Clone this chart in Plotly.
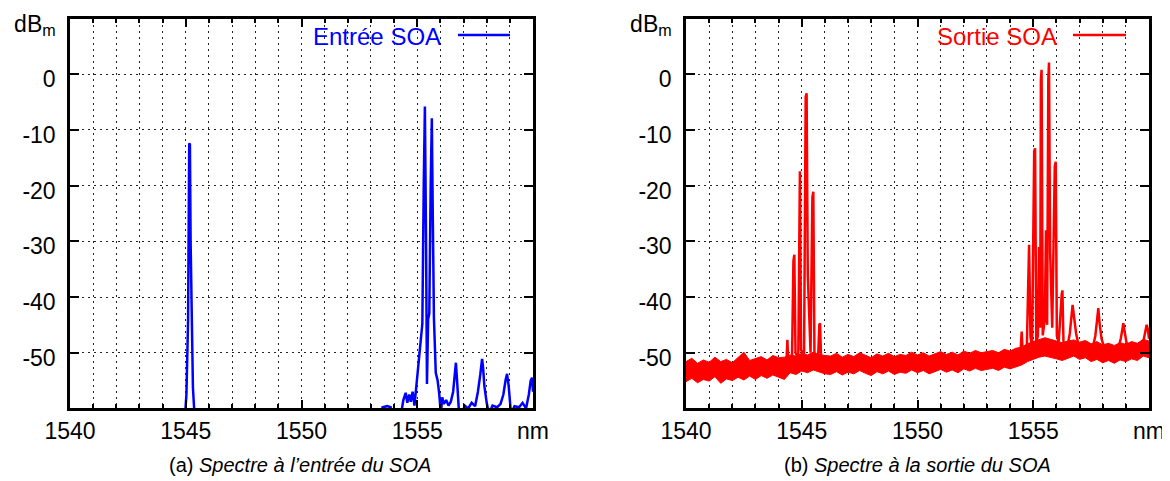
import plotly.graph_objects as go

# wavelengths (nm) / levels (dBm)
x_ticks = [1540, 1545, 1550, 1555, 1560]
x_text = ["1540", "1545", "1550", "1555", "nm"]
y_ticks = [-50, -40, -30, -20, -10, 0, 10]
y_text = ["-50", "-40", "-30", "-20", "-10", "0", "dB<sub>m</sub>"]

# (a) input spectrum, blue: isolated line near 1545 nm and the comb near 1555 nm
in_line_nm = [1544.96, 1545.03, 1545.10, 1545.15, 1545.18, 1545.21, 1545.24, 1545.31, 1545.39]
in_line_db = [-62.0, -57.4, -44.3, -12.4, -12.6, -30.0, -41.5, -56.3, -62.0]

in_comb_nm = [1553.45, 1553.50, 1553.70, 1553.85, 1553.90, 1554.30, 1554.40, 1554.50, 1554.57,
              1554.65, 1554.72, 1554.80, 1554.88, 1554.98, 1555.05, 1555.15, 1555.22, 1555.28,
              1555.33, 1555.38, 1555.42, 1555.47, 1555.52, 1555.58, 1555.63, 1555.67, 1555.72,
              1555.80, 1555.88, 1555.95, 1556.02, 1556.08, 1556.15, 1556.25, 1556.35, 1556.45,
              1556.55, 1556.62, 1556.67, 1556.72, 1556.80, 1556.90, 1557.05, 1557.20, 1557.35,
              1557.50, 1557.62, 1557.72, 1557.80, 1557.84, 1557.90, 1558.00, 1558.10, 1558.25,
              1558.45, 1558.60, 1558.72, 1558.82, 1558.88, 1558.95, 1559.05, 1559.20, 1559.40,
              1559.55, 1559.70, 1559.82, 1559.90, 1559.96, 1560.00]
in_comb_db = [-62.0, -59.8, -59.6, -59.8, -62.0, -61.0, -58.5, -57.2, -59.0,
              -57.5, -58.8, -57.0, -59.5, -55.0, -52.5, -48.0, -44.8, -20.0,
              -5.8, -30.0, -55.6, -44.0, -43.0, -20.0, -7.9, -25.0, -43.7,
              -53.6, -55.0, -57.4, -61.0, -58.0, -59.2, -58.5, -59.5, -58.8,
              -57.0, -54.0, -51.8, -55.0, -60.5, -61.5, -59.5, -60.0, -59.0,
              -59.6, -57.0, -54.0, -51.1, -52.5, -56.0, -59.0, -61.0, -59.5,
              -59.8, -59.2, -57.5, -54.8, -53.8, -56.0, -61.0, -59.6, -59.8,
              -59.0, -60.0, -57.5, -55.0, -54.5, -57.0]

# (b) output spectrum, red: ASE floor (upper / lower edge of the noise band)
floor_nm = [1540.00, 1540.25, 1540.50, 1540.75, 1541.00, 1541.25, 1541.50, 1541.75, 1542.00,
            1542.25, 1542.50, 1542.75, 1543.00, 1543.25, 1543.50, 1543.75, 1544.00, 1544.25,
            1544.50, 1544.75, 1545.00, 1545.25, 1545.50, 1545.75, 1546.00, 1546.25, 1546.50,
            1546.75, 1547.00, 1547.25, 1547.50, 1547.75, 1548.00, 1548.25, 1548.50, 1548.75,
            1549.00, 1549.25, 1549.50, 1549.75, 1550.00, 1550.25, 1550.50, 1550.75, 1551.00,
            1551.25, 1551.50, 1551.75, 1552.00, 1552.25, 1552.50, 1552.75, 1553.00, 1553.25,
            1553.50, 1553.75, 1554.00, 1554.25, 1554.50, 1554.75, 1555.00, 1555.25, 1555.50,
            1555.75, 1556.00, 1556.25, 1556.50, 1556.75, 1557.00, 1557.25, 1557.50, 1557.75,
            1558.00, 1558.25, 1558.50, 1558.75, 1559.00, 1559.25, 1559.50, 1559.75, 1560.00]
floor_hi = [-51.6, -51.0, -51.9, -51.3, -51.7, -50.8, -51.6, -51.2, -51.8,
            -50.9, -49.9, -51.4, -51.0, -50.7, -51.3, -50.5, -50.9, -50.8,
            -50.4, -50.6, -50.1, -50.4, -49.9, -50.3, -50.5, -50.6, -50.1,
            -50.8, -50.3, -50.7, -50.0, -50.5, -50.9, -50.2, -50.6, -50.1,
            -50.7, -50.3, -50.5, -49.9, -50.4, -50.0, -50.6, -50.2, -49.8,
            -50.3, -49.9, -50.4, -49.7, -50.1, -49.6, -50.0, -49.8, -49.6,
            -50.0, -49.4, -49.7, -49.2, -49.0, -48.4, -48.0, -47.6, -47.3,
            -47.6, -47.9, -48.2, -47.9, -47.7, -48.1, -47.8, -48.4, -48.0,
            -48.6, -48.3, -48.7, -48.2, -48.5, -48.0, -48.3, -47.6, -47.9]
floor_lo = [-55.2, -54.6, -55.4, -54.8, -55.1, -54.3, -55.5, -54.7, -55.0,
            -54.4, -54.9, -54.2, -54.8, -54.1, -54.6, -54.0, -54.4, -54.8,
            -53.6, -53.9, -53.3, -53.6, -53.1, -53.5, -53.8, -53.9, -53.4,
            -54.0, -53.5, -53.8, -53.2, -53.7, -54.1, -53.4, -53.8, -53.3,
            -53.9, -53.5, -53.7, -53.1, -53.6, -53.2, -53.8, -53.4, -53.0,
            -53.5, -53.1, -53.6, -52.9, -53.3, -52.8, -53.2, -53.0, -52.8,
            -53.2, -52.6, -52.9, -52.5, -52.2, -51.6, -51.2, -50.8, -50.6,
            -50.8, -51.1, -51.4, -51.0, -50.6, -51.2, -50.9, -51.6, -51.2,
            -51.8, -51.4, -51.9, -51.3, -51.6, -51.1, -51.4, -50.6, -50.9]

# (b) converted lines around 1545 nm
out_a_nm = [1544.25, 1544.34, 1544.38, 1544.42, 1544.58, 1544.64, 1544.68, 1544.73, 1544.85,
            1544.89, 1544.92, 1544.97, 1545.10, 1545.17, 1545.21, 1545.26, 1545.38, 1545.46,
            1545.50, 1545.55, 1545.70, 1545.76, 1545.79, 1545.84, 1546.00]
out_a_db = [-52.5, -51.5, -47.7, -52.0, -51.0, -33.5, -32.4, -50.0, -51.0,
            -18.0, -17.4, -49.5, -50.5, -4.0, -3.4, -36.0, -50.0, -22.0,
            -21.1, -51.0, -51.5, -45.0, -44.7, -52.0, -52.0]

# (b) comb around 1555 nm and its satellites
out_b_nm = [1554.20, 1554.45, 1554.50, 1554.55, 1554.72, 1554.79, 1554.82, 1554.88, 1554.95,
            1555.04, 1555.08, 1555.13, 1555.20, 1555.25, 1555.30, 1555.33, 1555.36, 1555.41,
            1555.50, 1555.55, 1555.60, 1555.65, 1555.68, 1555.73, 1555.82, 1555.93, 1555.97,
            1556.02, 1556.10, 1556.23, 1556.26, 1556.31, 1556.45, 1556.58, 1556.65, 1556.70,
            1556.76, 1556.85, 1556.95, 1557.20, 1557.55, 1557.68, 1557.76, 1557.81, 1557.86,
            1557.95, 1558.10, 1558.40, 1558.65, 1558.78, 1558.85, 1558.89, 1558.94, 1559.02,
            1559.15, 1559.45, 1559.65, 1559.78, 1559.86, 1559.90, 1559.95, 1560.00]
out_b_db = [-50.5, -50.0, -46.2, -50.5, -49.5, -31.0, -30.6, -47.1, -49.0,
            -13.8, -13.3, -48.0, -47.0, -31.0, -45.5, -1.0, 0.8, -46.9,
            -44.0, -28.0, -45.0, -1.0, 2.1, -32.0, -45.5, -16.5, -15.7,
            -47.0, -48.0, -39.5, -38.8, -49.0, -49.5, -46.5, -43.0, -41.4,
            -43.5, -46.5, -48.5, -49.5, -49.5, -47.0, -44.0, -42.0, -44.5,
            -47.5, -49.5, -50.0, -49.5, -47.5, -45.8, -44.7, -46.0, -48.0,
            -49.5, -49.8, -49.0, -47.5, -45.8, -45.0, -45.8, -47.5]

BLUE = "#0000ff"
RED = "#ff0000"
FONT = "Liberation Sans"
# the page body has an 8px margin, so the figure is drawn 8px in from the window corner
OFF = 8
W, H = 1170 - OFF, 481 - OFF


def px(x):
    return (x - OFF) / W


def py(y):
    return 1 - (y - OFF) / H


fig = go.Figure()

# left panel
fig.add_trace(go.Scatter(x=in_line_nm, y=in_line_db, mode="lines",
                         line=dict(color=BLUE, width=2.5), showlegend=False))
fig.add_trace(go.Scatter(x=in_comb_nm, y=in_comb_db, mode="lines",
                         line=dict(color=BLUE, width=2.5), showlegend=False))

# right panel
fig.add_trace(go.Scatter(x=floor_nm, y=floor_lo, mode="lines", xaxis="x2", yaxis="y2",
                         line=dict(color=RED, width=1), showlegend=False))
fig.add_trace(go.Scatter(x=floor_nm, y=floor_hi, mode="lines", xaxis="x2", yaxis="y2",
                         fill="tonexty", fillcolor=RED,
                         line=dict(color=RED, width=1), showlegend=False))
fig.add_trace(go.Scatter(x=out_a_nm, y=out_a_db, mode="lines", xaxis="x2", yaxis="y2",
                         line=dict(color=RED, width=2.5), showlegend=False))
fig.add_trace(go.Scatter(x=out_b_nm, y=out_b_db, mode="lines", xaxis="x2", yaxis="y2",
                         line=dict(color=RED, width=2.5), showlegend=False))

xax = dict(range=[1540, 1560], tickvals=x_ticks, ticktext=x_text, automargin=False,
           ticks="inside", ticklen=9, tickwidth=1.5, tickcolor="black",
           showline=True, linewidth=2.5, linecolor="black", mirror="allticks",
           showgrid=True, gridcolor="#222", gridwidth=1, griddash="2px,4px",
           minor=dict(dtick=1, ticks="inside", ticklen=5, tickcolor="black",
                      showgrid=True, gridcolor="#222", gridwidth=1, griddash="2px,4px"),
           zeroline=False, ticklabelstandoff=0, ticklabeloverflow="allow",
           tickfont=dict(family=FONT, size=23, color="black"))
yax = dict(range=[-60, 10], tickvals=y_ticks, ticktext=y_text, automargin=False,
           ticks="inside", ticklen=9, tickwidth=1.5, tickcolor="black",
           showline=True, linewidth=2.5, linecolor="black", mirror="allticks",
           showgrid=True, gridcolor="#222", gridwidth=1, griddash="2px,4px",
           zeroline=False, ticklabelstandoff=7, ticklabelshift=5,
           ticklabeloverflow="allow",
           tickfont=dict(family=FONT, size=23, color="black"))

y_dom = [py(408.4), py(18.6)]
fig.update_layout(
    width=W, height=H,
    margin=dict(l=0, r=0, t=0, b=0),
    paper_bgcolor="white", plot_bgcolor="white",
    xaxis=dict(xax, domain=[px(70), px(533)], anchor="y"),
    yaxis=dict(yax, domain=y_dom, anchor="x"),
    xaxis2=dict(xax, domain=[px(686), px(1149)], anchor="y2"),
    yaxis2=dict(yax, domain=y_dom, anchor="x2"),
)

# legends (text left of the sample line, as in gnuplot)
for txt, col, x_end, x0, x1 in [("Entrée SOA", BLUE, 443, 458, 510),
                                ("Sortie SOA", RED, 1059, 1073, 1126)]:
    fig.add_annotation(text=txt, x=px(x_end), y=py(36), xref="paper", yref="paper",
                       xanchor="right", yanchor="middle", showarrow=False,
                       font=dict(family=FONT, size=24, color=col))
    fig.add_shape(type="line", xref="paper", yref="paper",
                  x0=px(x0), x1=px(x1), y0=py(35), y1=py(35),
                  line=dict(color=col, width=2.5))

# sub-captions
for txt, xc in [("(a) <i>Spectre à l’entrée du SOA</i>", 300),
                ("(b) <i>Spectre à la sortie du SOA</i>", 917)]:
    fig.add_annotation(text=txt, x=px(xc), y=py(465), xref="paper", yref="paper",
                       xanchor="center", yanchor="middle", showarrow=False,
                       font=dict(family=FONT, size=20, color="black"))

fig.write_html("out.html")
